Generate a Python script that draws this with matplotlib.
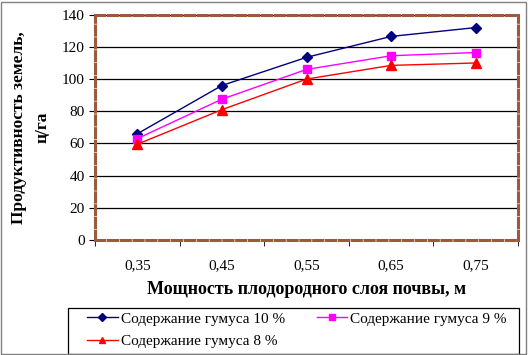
import numpy as np
import matplotlib.pyplot as plt
from matplotlib.patches import Rectangle

plt.rcParams['font.family'] = ['Liberation Serif', 'DejaVu Serif']

depth = ["0,35", "0,45", "0,55", "0,65", "0,75"]
humus_10 = [66, 96, 113.5, 126.5, 132]
humus_9 = [63, 87.5, 106, 114.5, 116.5]
humus_8 = [59.5, 81, 100, 108.5, 110]

fig = plt.figure(figsize=(5.28, 3.55), dpi=100)
ax = fig.add_axes([95 / 528, 1 - 240 / 355, 423 / 528, 225.3 / 355])

x = np.arange(len(depth))
l10, = ax.plot(x, humus_10, color="#000080", marker="D", markersize=5, lw=1,
               label="Содержание гумуса 10 %")
l9, = ax.plot(x, humus_9, color="#FF00FF", marker="s", markersize=6, lw=1,
              label="Содержание гумуса 9 %")
l8, = ax.plot(x, humus_8, color="#FF0000", marker="^", markersize=6.5, lw=1,
              label="Содержание гумуса 8 %")

ax.set_xlim(-0.5, len(depth) - 0.5)
ax.set_ylim(0, 140)
ax.set_yticks(np.arange(0, 141, 20))
ax.set_xticks(x)
ax.set_xticklabels(depth)
ax.set_xticks(np.arange(-0.5, len(depth)), minor=True)
ax.tick_params(axis="x", which="major", length=0, pad=14, labelsize=11)
ax.tick_params(axis="x", which="minor", length=4, direction="out")
ax.tick_params(axis="y", length=4, direction="out", labelsize=11)
ax.grid(axis="y", color="black", lw=0.9)
ax.set_axisbelow(True)

for s in ax.spines.values():
    s.set_color("#9C5A3C")
    s.set_linewidth(2.2)
    s.set_linestyle((0, (3, 1.2)))

ax.set_xlabel("Мощность плодородного слоя почвы, м", fontsize=13,
              fontweight="bold", labelpad=6)
ax.set_ylabel("Продуктивность земель,\nц/га", fontsize=12.5,
              fontweight="bold", labelpad=8, linespacing=1.6)

# legend box drawn by hand, entries placed inside it
fig.patches.append(Rectangle((68 / 528, 1 / 355), 451 / 528, 46 / 355,
                             transform=fig.transFigure, fill=False,
                             edgecolor="black", lw=0.9))
leg = fig.legend([l10, l8, l9], [l10.get_label(), l8.get_label(), l9.get_label()],
                 loc="center left", ncol=2, mode="expand",
                 bbox_to_anchor=(87 / 528, 2 / 355, 420 / 528, 46 / 355),
                 fontsize=11, frameon=False,
                 borderpad=0, labelspacing=0.55, handlelength=2.0,
                 handletextpad=0.2, borderaxespad=0, markerscale=0.75)

fig.patches.append(Rectangle((1 / 528, 1 / 355), 525 / 528, 352 / 355,
                             transform=fig.transFigure, fill=False,
                             edgecolor="#808080", lw=1))

fig.savefig("out.png", dpi=100)
